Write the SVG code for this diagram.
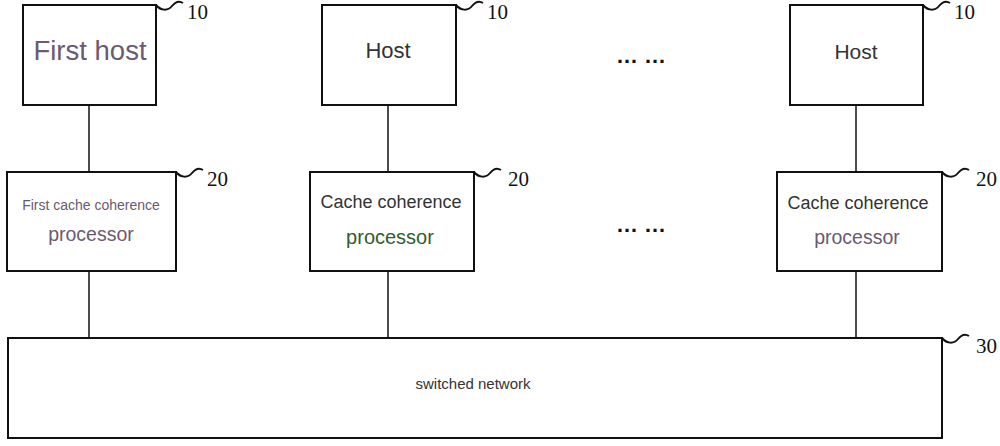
<svg xmlns="http://www.w3.org/2000/svg" width="1000" height="446" viewBox="0 0 1000 446">
<style>
.box{fill:#fff;stroke:#111;stroke-width:2}
.ln{stroke:#111;stroke-width:1.5;fill:none}
.sq{stroke:#111;stroke-width:2;fill:none}
.ref{font-family:"Liberation Serif",serif;font-size:21px;fill:#111}
.t{font-family:"Liberation Sans",Arial,sans-serif;text-anchor:middle}
.dots{font-family:"Liberation Sans",Arial,sans-serif;font-size:22px;fill:#111;font-weight:bold}
</style>
<rect width="1000" height="446" fill="#fff"/>
<g id="connectors">
<line class="ln" x1="89" y1="105" x2="89" y2="172"/>
<line class="ln" x1="89" y1="271" x2="89" y2="338"/>
<line class="ln" x1="388" y1="105" x2="388" y2="172"/>
<line class="ln" x1="388" y1="271" x2="388" y2="338"/>
<line class="ln" x1="856" y1="105" x2="856" y2="172"/>
<line class="ln" x1="856" y1="271" x2="856" y2="338"/>
</g>
<g id="host1">
<rect class="box" x="23" y="5" width="133" height="100"/>
<text class="t" x="90" y="60" font-size="27.5" fill="#6b5a70">First host</text>
<path class="sq" d="M156,5 c5,6 12,6 16,1 s8,-5 11,-3"/>
<text class="ref" x="187" y="19">10</text>
</g>
<g id="host2">
<rect class="box" x="322" y="5" width="134" height="100"/>
<text class="t" x="388" y="58" font-size="22" fill="#333">Host</text>
<path class="sq" d="M456,5 c5,6 12,6 16,1 s8,-5 11,-3"/>
<text class="ref" x="487" y="19">10</text>
</g>
<g id="host3">
<rect class="box" x="790" y="5" width="133" height="100"/>
<text class="t" x="856" y="59" font-size="21" fill="#333">Host</text>
<path class="sq" d="M923,5 c5,6 12,6 16,1 s8,-5 11,-3"/>
<text class="ref" x="954" y="19">10</text>
</g>
<g id="ccp1">
<rect class="box" x="7" y="172" width="169" height="99"/>
<text class="t" x="91" y="210" font-size="14" fill="#6b5a70">First cache coherence</text>
<text class="t" x="91" y="241" font-size="19.5" fill="#6b5a70">processor</text>
<path class="sq" d="M176,172 c5,6 12,6 16,1 s8,-5 11,-3"/>
<text class="ref" x="207" y="186">20</text>
</g>
<g id="ccp2">
<rect class="box" x="310" y="172" width="164" height="99"/>
<text class="t" x="391" y="208" font-size="18" fill="#333">Cache coherence</text>
<text class="t" x="390" y="244" font-size="20" fill="#2e5e2e">processor</text>
<path class="sq" d="M474,172 c5,6 12,6 16,1 s8,-5 11,-3"/>
<text class="ref" x="508" y="186">20</text>
</g>
<g id="ccp3">
<rect class="box" x="777" y="172" width="165" height="99"/>
<text class="t" x="858" y="209" font-size="18" fill="#333">Cache coherence</text>
<text class="t" x="857" y="244" font-size="19.5" fill="#6b5a70">processor</text>
<path class="sq" d="M942,172 c5,6 12,6 16,1 s8,-5 11,-3"/>
<text class="ref" x="976" y="186">20</text>
</g>
<g id="network">
<rect class="box" x="8" y="338" width="934" height="100"/>
<text class="t" x="473" y="389" font-size="15" fill="#333">switched network</text>
<path class="sq" d="M942,338 c5,6 12,6 16,1 s8,-5 11,-3"/>
<text class="ref" x="976" y="353">30</text>
</g>
<g id="ellipsis">
<text class="dots" x="616" y="63">… …</text>
<text class="dots" x="616" y="232">… …</text>
</g>
</svg>
